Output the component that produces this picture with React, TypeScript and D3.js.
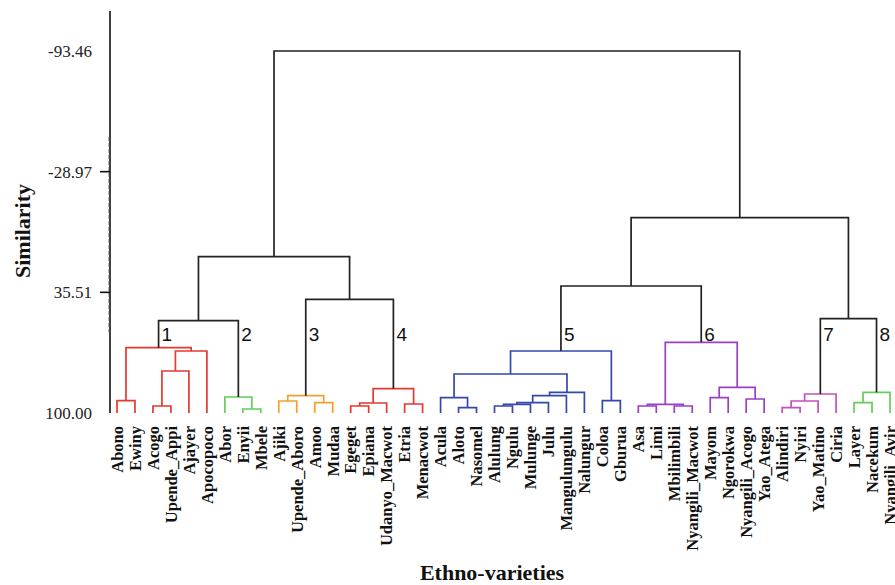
import React from "react";
import * as d3 from "d3";

const W = 895;
const H = 585;

const leaves = [
  "Abono", "Ewiny", "Acogo", "Upende_Appi", "Ajayer", "Apocopoco", "Abor", "Enyii", "Mbele",
  "Ajiki", "Upende_Aboro", "Amoo", "Mudaa",
  "Egeget", "Epiana", "Udanyo_Macwot", "Etria", "Menacwot",
  "Acula", "Aloto", "Nasomel", "Alulung", "Ngulu", "Mulunge", "Julu", "Mangulungulu", "Nalungur", "Coloa", "Gburua",
  "Asa", "Limi", "Mbilimbili", "Nyangili_Macwot", "Mayom", "Ngorokwa", "Nyangili_Acogo", "Yao_Atega",
  "Alindiri", "Nyiri", "Yao_Matino", "Ciria",
  "Layer", "Nacekum", "Nyangili_Avir",
];

// [id, left child, right child, similarity]
const merges: [string, string, string, number][] = [
  ["m_AbEw", "Abono", "Ewiny", 93.43],
  ["m_AcUA", "Acogo", "Upende_Appi", 96.26],
  ["m_AcUAAj", "m_AcUA", "Ajayer", 77.55],
  ["m_1b", "m_AcUAAj", "Apocopoco", 66.86],
  ["C1", "m_AbEw", "m_1b", 65.1],
  ["m_EnMb", "Enyii", "Mbele", 97.86],
  ["C2", "Abor", "m_EnMb", 91.45],
  ["C12", "C1", "C2", 50.67],
  ["m_AjUA", "Ajiki", "Upende_Aboro", 93.59],
  ["m_AmMu", "Amoo", "Mudaa", 94.49],
  ["C3", "m_AjUA", "m_AmMu", 90.75],
  ["m_EgEp", "Egeget", "Epiana", 96.26],
  ["m_EgEpUd", "m_EgEp", "Udanyo_Macwot", 94.66],
  ["m_EtMe", "Etria", "Menacwot", 95.19],
  ["C4", "m_EgEpUd", "m_EtMe", 87.01],
  ["C34", "C3", "C4", 39.23],
  ["L", "C12", "C34", 16.46],
  ["m_AlNa", "Aloto", "Nasomel", 97.17],
  ["m_Acu", "Acula", "m_AlNa", 91.82],
  ["m_AluNg", "Alulung", "Ngulu", 96.26],
  ["m_5a", "m_AluNg", "Mulunge", 95.35],
  ["m_5b", "m_5a", "Julu", 94.49],
  ["m_5c", "m_5b", "Mangulungulu", 90.75],
  ["m_5d", "m_5c", "Nalungur", 88.94],
  ["m_5e", "m_Acu", "m_5d", 79.16],
  ["m_CoGb", "Coloa", "Gburua", 93.43],
  ["C5", "m_5e", "m_CoGb", 66.86],
  ["m_AsLi", "Asa", "Limi", 96.26],
  ["m_MbNy", "Mbilimbili", "Nyangili_Macwot", 96.26],
  ["m_6a", "m_AsLi", "m_MbNy", 95.35],
  ["m_MaNg", "Mayom", "Ngorokwa", 91.82],
  ["m_NyYa", "Nyangili_Acogo", "Yao_Atega", 92.52],
  ["m_6b", "m_MaNg", "m_NyYa", 86.26],
  ["C6", "m_6a", "m_6b", 62.21],
  ["C56", "C5", "C6", 32.12],
  ["m_AlNy", "Alindiri", "Nyiri", 97.17],
  ["m_7a", "m_AlNy", "Yao_Matino", 93.59],
  ["C7", "m_7a", "Ciria", 89.85],
  ["m_LaNa", "Layer", "Nacekum", 94.49],
  ["C8", "m_LaNa", "Nyangili_Avir", 88.94],
  ["C78", "C7", "C8", 49.6],
  ["R", "C56", "C78", -4.38],
  ["root", "L", "R", -93.46],
];

const clusterRoots = ["C1", "C2", "C3", "C4", "C5", "C6", "C7", "C8"];
const clusterLabels = ["1", "2", "3", "4", "5", "6", "7", "8"];
const clusterColors = ["#e4392f", "#66cc5a", "#f5a02c", "#e4392f", "#3547ad", "#9a3fc6", "#c550bf", "#66cc5a"];

const tickValues = [-93.46, -28.97, 35.51, 100.0];
const tickMarks = [-28.97, 35.51];

export default function App() {
  const x = d3.scalePoint<string>().domain(leaves).range([117, 890]);
  const y = d3.scaleLinear().domain([100, -93.46]).range([413, 51]);

  const pos: Record<string, { x: number; y: number }> = {};
  leaves.forEach((l) => (pos[l] = { x: x(l) as number, y: y(100) }));
  const children: Record<string, string[]> = {};
  merges.forEach(([id, a, b, s]) => {
    pos[id] = { x: (pos[a].x + pos[b].x) / 2, y: y(s) };
    children[id] = [a, b];
  });

  const color: Record<string, string> = {};
  clusterRoots.forEach((c, i) => {
    const stack = [c];
    while (stack.length) {
      const n = stack.pop() as string;
      if (children[n]) {
        color[n] = clusterColors[i];
        stack.push(...children[n]);
      }
    }
  });

  const serif = "'Liberation Serif', 'Times New Roman', serif";
  const sans = "'Liberation Sans', Arial, sans-serif";

  return (
    <svg width={W} height={H} style={{ position: "absolute", left: 0, top: 0, background: "#fff" }}>
      {/* axis */}
      <line x1={110} x2={110} y1={y(-114.8)} y2={y(100)} stroke="#111" strokeWidth={1.6} />
      <line x1={108.6} x2={108.6} y1={137} y2={332} stroke="#999" strokeWidth={0.8} strokeDasharray="4,2" />
      {tickMarks.map((t) => (
        <line key={t} x1={100} x2={110} y1={y(t)} y2={y(t)} stroke="#111" strokeWidth={1.6} />
      ))}
      {tickValues.map((t) => (
        <text key={t} x={92} y={y(t)} dy="0.35em" textAnchor="end" fontFamily={serif} fontSize={17} fill="#222">
          {t.toFixed(2)}
        </text>
      ))}
      <text
        transform={`translate(22,231) rotate(-90)`}
        textAnchor="middle"
        dy="0.35em"
        fontFamily={serif}
        fontWeight="bold"
        fontSize={22}
        fill="#111"
      >
        Similarity
      </text>
      <text x={492} y={580} textAnchor="middle" fontFamily={serif} fontWeight="bold" fontSize={22} fill="#111">
        Ethno-varieties
      </text>

      {/* dendrogram links */}
      {merges.map(([id, a, b]) => {
        const p = pos[id];
        const pa = pos[a];
        const pb = pos[b];
        const d = `M${pa.x},${pa.y}V${p.y}H${pb.x}V${pb.y}`;
        return <path key={id} d={d} fill="none" stroke={color[id] || "#222"} strokeWidth={1.7} />;
      })}

      {/* cluster numbers */}
      {clusterRoots.map((c, i) => (
        <text key={c} x={pos[c].x + 3} y={341} fontFamily={sans} fontSize={19} fill="#111">
          {clusterLabels[i]}
        </text>
      ))}

      {/* leaf labels */}
      {leaves.map((l) => (
        <text
          key={l}
          transform={`translate(${x(l)},426) rotate(-90)`}
          textAnchor="end"
          dy="0.35em"
          fontFamily={serif}
          fontWeight="bold"
          fontSize={16.5}
          fill="#111"
        >
          {l}
        </text>
      ))}
    </svg>
  );
}
